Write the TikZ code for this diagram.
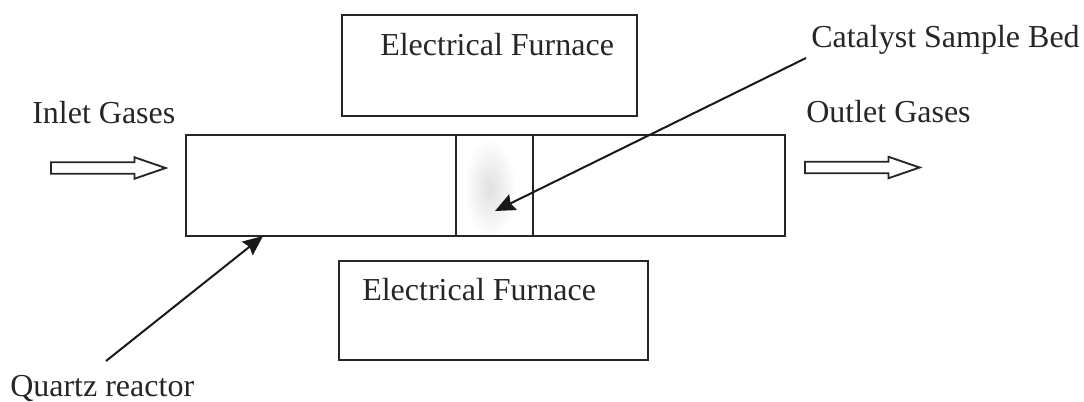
\documentclass[tikz,border=0pt]{standalone}
\usepackage{fontspec}
\setmainfont{Liberation Serif}
\usetikzlibrary{arrows.meta}
\usetikzlibrary{shapes.arrows}

\tikzset{
	box/.style={draw=black!85, line width=1.6pt},
	lbl/.style={inner sep=0pt, anchor=base west, font=\fontsize{24}{28}\selectfont, text=black!85},
	gasarrow/.style={draw=black!85, line width=1.4pt, single arrow, inner sep=3.6pt, single arrow head extend=3.75pt, single arrow tip angle=38, minimum height=86pt, anchor=west},
	pointer/.style={draw=black!90, line width=1.5pt, -{Stealth[length=15pt, width=13pt, inset=2pt]}},
}

\begin{document}
\begin{tikzpicture}[x=0.75pt, y=-0.75pt]
	\useasboundingbox (0,0) rectangle (1084,401);
	%furnaces
	\draw[box] (342,15) rectangle (637,116);
	\draw[box] (339,261) rectangle (648,360);
	%reactor and sample bed
	\shade[inner color=black!12, outer color=white] (490,188) ellipse (26 and 50);
	\draw[box] (186,135) rectangle (785,236);
	\draw[box] (456,135)--(456,236);
	\draw[box] (533,135)--(533,236);
	%labels
	\node[lbl] (topfurnace) at (380,55) {Electrical Furnace};
	\node[lbl] (botfurnace) at (362,300) {Electrical Furnace};
	\node[lbl] (inlet) at (32,123) {Inlet Gases};
	\node[lbl] (outlet) at (806,122) {Outlet Gases};
	\node[lbl] (catalyst) at (811,47) {Catalyst Sample Bed};
	\node[lbl] (quartz) at (10,396) {Quartz reactor};
	%gas flow
	\node[gasarrow] (inarrow) at (50,168) {};
	\node[gasarrow] (outarrow) at (804,167.5) {};
	%pointers
	\coordinate (catalysttail) at (806,58);
	\coordinate (bedpoint) at (495,211);
	\coordinate (quartztail) at (106,361);
	\coordinate (wallpoint) at (263,236);
	\draw[pointer] (catalysttail)--(bedpoint);
	\draw[pointer] (quartztail)--(wallpoint);
\end{tikzpicture}
\end{document}
